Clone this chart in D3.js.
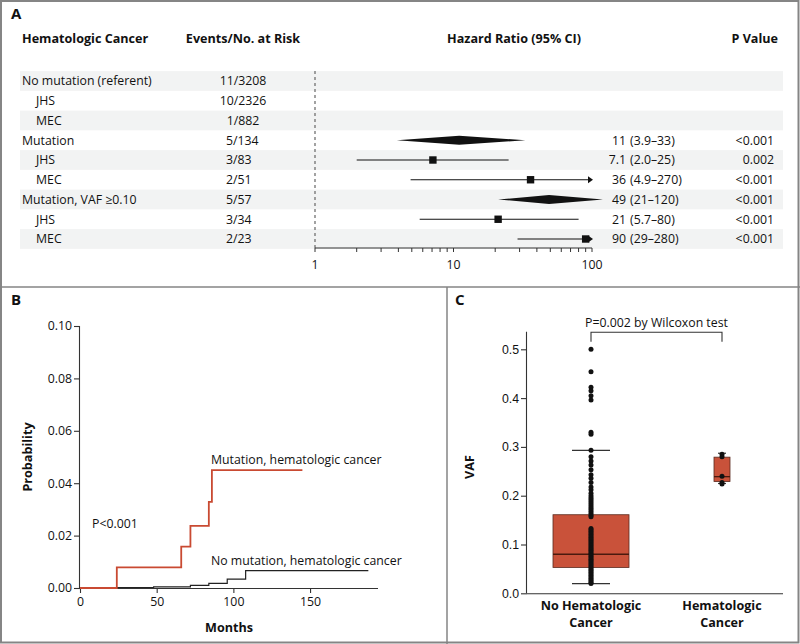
<!DOCTYPE html>
<html><head><meta charset="utf-8">
<script src="https://cdn.jsdelivr.net/npm/d3@7"></script>
<style>
html,body{margin:0;padding:0;background:#fff;}
svg{display:block;font-family:"Open Sans",sans-serif;}
</style></head>
<body><svg id="chart" width="800" height="644"></svg>
<script>
// ---------- Panel A data ----------
const rowLabels = ["No mutation (referent)","JHS","MEC","Mutation","JHS","MEC","Mutation, VAF \u22650.10","JHS","MEC"];
const rowIndent = [0,1,1,0,1,1,0,1,1];
const events = ["11/3208","10/2326","1/882","5/134","3/83","2/51","5/57","3/34","2/23"];
const hrEst = [null,null,null,11,7.1,36,49,21,90];
const hrLo  = [null,null,null,3.9,2.0,4.9,21,5.7,29];
const hrHi  = [null,null,null,33,25,270,120,80,280];
const hrEstText = ["","","","11","7.1","36","49","21","90"];
const hrCiText  = ["","","","(3.9\u201333)","(2.0\u201325)","(4.9\u2013270)","(21\u2013120)","(5.7\u201380)","(29\u2013280)"];
const pValues = ["","","","<0.001","0.002","<0.001","<0.001","<0.001","<0.001"];
const hrTicksMajor = [1,10,100];
const hrTicksMinor = [2,3,4,5,6,7,8,9,20,30,40,50,60,70,80,90];

// ---------- Panel B data ----------
const mutTimes = [0,24,66,72,84,86,145];
const mutProb  = [0,0.0079,0.0158,0.0237,0.0329,0.045,0.045];
const noMutTimes = [0,12,24,48,72,84,96,108,188];
const noMutProb  = [0,0.0001,0.0002,0.0004,0.0010,0.0018,0.0034,0.0066,0.0066];
const kmXTicks = [0,50,100,150];
const kmYTicks = [0,0.02,0.04,0.06,0.08,0.10];

// ---------- Panel C data ----------
const groups = ["No Hematologic Cancer","Hematologic Cancer"];
const groupLabelLines = [["No Hematologic","Cancer"],["Hematologic","Cancer"]];
const boxQ1 = [0.053,0.229];
const boxMed = [0.080,0.239];
const boxQ3 = [0.161,0.279];
const whiskLo = [0.020,0.225];
const whiskHi = [0.293,0.287];
const dotsNoCancer = [0.500,0.454,0.422,0.415,0.405,0.396,0.330,0.326,
  0.293,0.280,0.271,0.263,0.253,0.243,0.236,0.227,0.218,0.212,
  0.205,0.200,0.196,0.192,0.188,0.184,0.180,0.176,0.172,0.168,0.164,0.160,0.157,
  0.133,0.130,0.127,0.124,0.121,0.118,0.115,0.112,0.109,0.106,0.103,0.100,0.097,0.094,
  0.091,0.088,0.085,0.082,0.079,0.076,0.073,0.070,0.067,0.064,0.061,0.058,0.055,0.052,
  0.049,0.046,0.043,0.040,0.037,0.034,0.031,0.028,0.025,0.022,0.020];
const dotsCancer = [0.285,0.280,0.240,0.227,0.224];
const vafTicks = [0,0.1,0.2,0.3,0.4,0.5];

const svg = d3.select("#chart");
const RED = "#c94a32";
const BOXFILL = "#c9523a";
const FS = 12.3;

// Frame
svg.append("rect").attr("x",1).attr("y",1).attr("width",797.5).attr("height",641.5)
  .attr("fill","none").attr("stroke","#858585").attr("stroke-width",2);
svg.append("line").attr("x1",0).attr("x2",800).attr("y1",287).attr("y2",287).attr("stroke","#858585").attr("stroke-width",1.5);
svg.append("line").attr("x1",447).attr("x2",447).attr("y1",287).attr("y2",644).attr("stroke","#858585").attr("stroke-width",1.5);

// Panel letters
[["A",11,19],["B",11,305],["C",455,305]].forEach(d=>{
  svg.append("text").attr("x",d[1]).attr("y",d[2]).text(d[0])
    .attr("font-size",15).attr("font-weight","bold").attr("fill","#111");
});

// ================= Panel A =================
const gA = svg.append("g");
const rowY = d3.scalePoint().domain(d3.range(rowLabels.length)).range([81, 81+19.75*8]);
const hrX = d3.scaleLog().domain([1,100]).range([315,592]);

// headers
const hdr = [["Hematologic Cancer",22,"start"],["Events/No. at Risk",243,"middle"],["Hazard Ratio (95% CI)",514,"middle"],["P Value",778,"end"]];
hdr.forEach(h=>gA.append("text").attr("x",h[1]).attr("y",43).attr("text-anchor",h[2])
  .attr("font-size",12.6).attr("font-weight","bold").attr("fill","#111").text(h[0]));

// stripes
rowLabels.forEach((l,i)=>{
  if(i%2===0) gA.append("rect").attr("x",20).attr("width",763).attr("y",rowY(i)-9.9).attr("height",19.75).attr("fill","#f2f3f3");
});

// dashed reference line
gA.append("line").attr("x1",hrX(1)).attr("x2",hrX(1)).attr("y1",71).attr("y2",248)
  .attr("stroke","#666").attr("stroke-width",1.2).attr("stroke-dasharray","3,3");

// axis
const axA = gA.append("g").attr("transform","translate(0,248)");
axA.append("line").attr("x1",hrX(1)).attr("x2",hrX(100)).attr("stroke","#333").attr("stroke-width",1.2);
hrTicksMajor.concat(hrTicksMinor).forEach(t=>{
  axA.append("line").attr("x1",hrX(t)).attr("x2",hrX(t)).attr("y1",0).attr("y2",4).attr("stroke","#333");
});
hrTicksMajor.forEach(t=>axA.append("text").attr("x",hrX(t)).attr("y",21).attr("text-anchor","middle")
  .attr("font-size",FS).attr("fill","#111").text(t));

const txt = (g,x,y,s,anchor,size,weight)=>g.append("text").attr("x",x).attr("y",y).attr("text-anchor",anchor||"start")
  .attr("font-size",size||FS).attr("font-weight",weight||"normal").attr("fill","#111").text(s);

rowLabels.forEach((l,i)=>{
  const y = rowY(i)+4.3;
  txt(gA, rowIndent[i]?36:22, y, l);
  if(i<3) txt(gA,243,y,events[i],"middle"); else txt(gA,226,y,events[i]);
  if(hrEst[i]!=null){
    txt(gA,626,y,hrEstText[i],"end");
    txt(gA,630,y,hrCiText[i]);
    txt(gA,774,y,pValues[i],"end");
    const cy = rowY(i);
    if(rowIndent[i]===0){
      const pts = [[hrX(hrLo[i]),cy],[hrX(hrEst[i]),cy-4.5],[hrX(hrHi[i]),cy],[hrX(hrEst[i]),cy+4.5]];
      gA.append("path").attr("d","M"+pts.map(p=>p.join(",")).join("L")+"Z").attr("fill","#111");
    } else {
      const clipped = hrHi[i]>100;
      const xHi = hrX(Math.min(hrHi[i],100));
      gA.append("line").attr("x1",hrX(hrLo[i])).attr("x2",clipped?xHi-2:xHi).attr("y1",cy).attr("y2",cy)
        .attr("stroke","#111").attr("stroke-width",1.2);
      if(clipped){
        gA.append("path").attr("d",`M${xHi+1},${cy}L${xHi-4},${cy-3.5}L${xHi-4},${cy+3.5}Z`).attr("fill","#111");
      }
      gA.append("rect").attr("x",hrX(hrEst[i])-3.7).attr("y",cy-3.7).attr("width",7.4).attr("height",7.4).attr("fill","#111");
    }
  }
});

// ================= Panel B =================
const gB = svg.append("g");
const kmX = d3.scaleLinear().domain([0,194.3]).range([80,378]);
const kmY = d3.scaleLinear().domain([0,0.10]).range([588,326]);
const yAxB = gB.append("g").attr("transform","translate(80,0)")
  .call(d3.axisLeft(kmY).tickValues(kmYTicks).tickFormat(d3.format(".2f")).tickSize(6).tickPadding(2));
const xAxB = gB.append("g").attr("transform","translate(0,588)")
  .call(d3.axisBottom(kmX).tickValues(kmXTicks).tickSize(5).tickPadding(4));
[yAxB,xAxB].forEach(a=>{
  a.selectAll("path,line").attr("stroke","#333").attr("stroke-width",1.1);
  a.selectAll("text").attr("font-size",FS).attr("fill","#111").attr("font-family","Open Sans, sans-serif");
});
xAxB.select(".domain").attr("d","M80,0.5H378");
yAxB.select(".domain").attr("d","M-0.5,588V326");

const step = d3.line().x(d=>kmX(d[0])).y(d=>kmY(d[1])).curve(d3.curveStepAfter);
gB.append("path").datum(noMutTimes.map((t,i)=>[t,noMutProb[i]])).attr("d",step)
  .attr("fill","none").attr("stroke","#222").attr("stroke-width",1.2);
gB.append("path").datum(mutTimes.map((t,i)=>[t,mutProb[i]])).attr("d",step)
  .attr("fill","none").attr("stroke",RED).attr("stroke-width",1.8);

txt(gB,211,464,"Mutation, hematologic cancer");
txt(gB,211,565,"No mutation, hematologic cancer");
txt(gB,92,528,"P<0.001");
gB.append("text").attr("transform","translate(32,457) rotate(-90)").attr("text-anchor","middle")
  .attr("font-size",12.6).attr("font-weight","bold").attr("fill","#111").text("Probability");
txt(gB,229,632,"Months","middle",12.6,"bold");

// ================= Panel C =================
const gC = svg.append("g");
const vY = d3.scaleLinear().domain([0,0.5]).range([593.3,349.3]);
const vX = d3.scalePoint().domain(groups).range([591,722]);
const yAxC = gC.append("g").attr("transform","translate(527,0)")
  .call(d3.axisLeft(vY).tickValues(vafTicks).tickFormat(d3.format(".1f")).tickSize(6).tickPadding(2));
yAxC.selectAll("path,line").attr("stroke","#333").attr("stroke-width",1.1);
yAxC.selectAll("text").attr("font-size",FS).attr("fill","#111");
yAxC.select(".domain").attr("d","M-0.5,593.3V331.7");
gC.append("line").attr("x1",527).attr("x2",783).attr("y1",593.8).attr("y2",593.8).attr("stroke","#333").attr("stroke-width",1.1);

const boxW = [76,16], capW = [38,8];
groups.forEach((g,i)=>{
  const cx = vX(g);
  gC.append("rect").attr("x",cx-boxW[i]/2).attr("y",vY(boxQ3[i])).attr("width",boxW[i])
    .attr("height",vY(boxQ1[i])-vY(boxQ3[i])).attr("fill",BOXFILL).attr("stroke","#5a2a1e").attr("stroke-width",0.8);
  gC.append("line").attr("x1",cx-boxW[i]/2).attr("x2",cx+boxW[i]/2).attr("y1",vY(boxMed[i])).attr("y2",vY(boxMed[i]))
    .attr("stroke","#4a1a0e").attr("stroke-width",1.3);
  [whiskLo[i],whiskHi[i]].forEach(w=>gC.append("line").attr("x1",cx-capW[i]/2).attr("x2",cx+capW[i]/2)
    .attr("y1",vY(w)).attr("y2",vY(w)).attr("stroke","#333").attr("stroke-width",1.2));
  const dots = i===0?dotsNoCancer:dotsCancer;
  dots.forEach(v=>gC.append("circle").attr("cx",cx).attr("cy",vY(v)).attr("r",2.5).attr("fill","#111"));
  groupLabelLines[i].forEach((s,k)=>txt(gC,cx,610+k*17,s,"middle",12.6,"bold"));
});
// bracket
const bx1 = vX(groups[0]), bx2 = vX(groups[1]);
gC.append("path").attr("d",`M${bx1},341.7V332.3H${bx2}V341.7`).attr("fill","none").attr("stroke","#333").attr("stroke-width",1.1);
txt(gC,(bx1+bx2)/2,327,"P=0.002 by Wilcoxon test","middle");
gC.append("text").attr("transform","translate(474,467) rotate(-90)").attr("text-anchor","middle")
  .attr("font-size",12.6).attr("font-weight","bold").attr("fill","#111").text("VAF");
</script></body></html>
